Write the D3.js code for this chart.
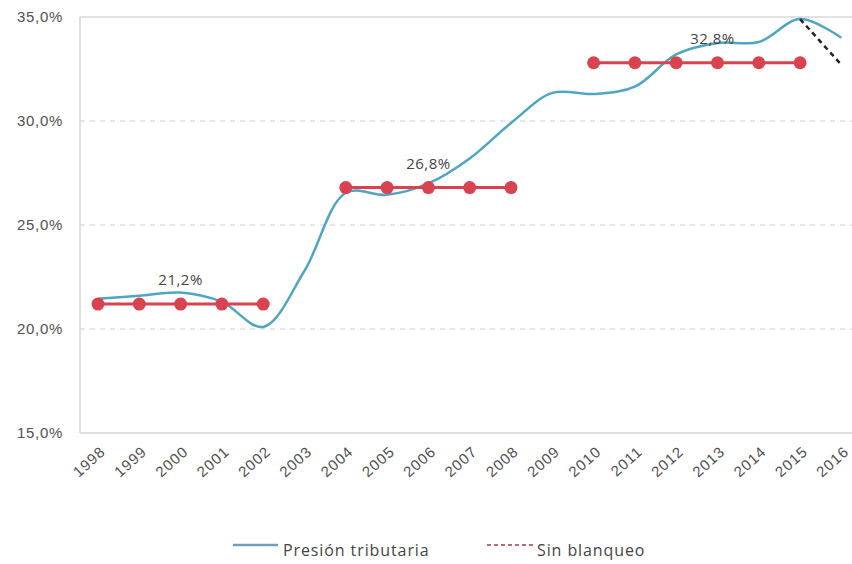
<!DOCTYPE html>
<html>
<head>
<meta charset="utf-8">
<script src="https://cdn.jsdelivr.net/npm/d3@7"></script>
<style>
  html, body { margin: 0; padding: 0; background: #fff; }
  svg { display: block; font-family: "Open Sans", "Noto Sans", sans-serif; }
</style>
</head>
<body>
<svg id="chart" width="852" height="564"></svg>
<script>
// Años del eje horizontal
const years = ["1998","1999","2000","2001","2002","2003","2004","2005","2006","2007",
               "2008","2009","2010","2011","2012","2013","2014","2015","2016"];

// Presión tributaria (% del PIB)
const presion = [21.45, 21.6, 21.75, 21.3, 20.1, 22.8, 26.55, 26.45, 27.0, 28.2,
                 29.9, 31.35, 31.3, 31.65, 33.2, 33.75, 33.8, 34.9, 34.0];

// Escenario sin blanqueo
const sinBlanqueoYears = ["2015", "2016"];
const sinBlanqueo = [34.9, 32.7];

// Promedios por período
const periodo1Years = ["1998","1999","2000","2001","2002"];
const periodo2Years = ["2004","2005","2006","2007","2008"];
const periodo3Years = ["2010","2011","2012","2013","2014","2015"];
const promedios = [21.2, 26.8, 32.8];
const promedioLabelYears = ["2000", "2006", "2013"];

const yTicks = [15, 20, 25, 30, 35];

const svg = d3.select("#chart");
const plotLeft = 80, plotRight = 852, plotTop = 17, plotBottom = 433;

const x = d3.scalePoint().domain(years).range([98, 841.4]);
const y = d3.scaleLinear().domain([15, 35]).range([plotBottom, plotTop]);

const fmt = v => d3.format(".1f")(v).replace(".", ",") + "%";

// Grid lines
svg.append("g").selectAll("line")
  .data(yTicks.filter(t => t > 15 && t < 35))
  .join("line")
  .attr("x1", plotLeft).attr("x2", plotRight)
  .attr("y1", d => y(d)).attr("y2", d => y(d))
  .attr("stroke", "#dedede").attr("stroke-width", 1.5)
  .attr("stroke-dasharray", "5,5");

svg.append("line")
  .attr("x1", plotLeft).attr("x2", plotRight)
  .attr("y1", y(35)).attr("y2", y(35))
  .attr("stroke", "#d8d8d8").attr("stroke-width", 1.5);

// Axis frame
svg.append("line")
  .attr("x1", plotLeft).attr("x2", plotLeft).attr("y1", y(35)).attr("y2", plotBottom)
  .attr("stroke", "#d4d4d4").attr("stroke-width", 1.5);
svg.append("line")
  .attr("x1", plotLeft).attr("x2", plotRight).attr("y1", plotBottom).attr("y2", plotBottom)
  .attr("stroke", "#d4d4d4").attr("stroke-width", 1.5);

// Y labels
const yAxis = d3.axisLeft(y).tickValues(yTicks).tickFormat(fmt).tickSize(0).tickPadding(0);
const gy = svg.append("g").attr("transform", `translate(63,0)`).call(yAxis);
gy.select(".domain").remove();
gy.selectAll("text")
  .attr("fill", "#505050").style("font-size", "15px").style("letter-spacing", "0.7px");

// X labels
const xAxis = d3.axisBottom(x).tickSize(0).tickPadding(0);
const gx = svg.append("g").attr("transform", `translate(0,${plotBottom})`).call(xAxis);
gx.select(".domain").remove();
gx.selectAll("text")
  .attr("fill", "#505050").style("font-size", "15px").style("letter-spacing", "1px")
  .attr("text-anchor", "end")
  .attr("dy", 0)
  .attr("transform", "translate(8,20) rotate(-42)");

// Presión tributaria line
const line = d3.line()
  .x((d, i) => x(years[i]))
  .y(d => y(d))
  .curve(d3.curveCatmullRom.alpha(0.5));

svg.append("path")
  .datum(presion)
  .attr("d", line)
  .attr("fill", "none")
  .attr("stroke", "#4fa5c2")
  .attr("stroke-width", 2.5);

// Sin blanqueo dashed segment
svg.append("path")
  .datum(sinBlanqueo)
  .attr("d", d3.line().x((d, i) => x(sinBlanqueoYears[i])).y(d => y(d)))
  .attr("fill", "none")
  .attr("stroke", "#222")
  .attr("stroke-width", 2.5)
  .attr("stroke-dasharray", "5,4");

// Period averages
const periodos = [periodo1Years, periodo2Years, periodo3Years];
periodos.forEach((ys, k) => {
  const g = svg.append("g");
  g.append("line")
    .attr("x1", x(ys[0])).attr("x2", x(ys[ys.length - 1]))
    .attr("y1", y(promedios[k])).attr("y2", y(promedios[k]))
    .attr("stroke", "#d8434f").attr("stroke-width", 3);
  g.selectAll("circle").data(ys).join("circle")
    .attr("cx", d => x(d)).attr("cy", y(promedios[k])).attr("r", 6.5)
    .attr("fill", "#d8434f");
  g.append("text")
    .attr("x", x(promedioLabelYears[k]) - (k === 2 ? 5 : 0))
    .attr("y", y(promedios[k]) - 19)
    .attr("text-anchor", "middle")
    .attr("fill", "#444")
    .style("font-size", "15px").style("letter-spacing", "0.5px")
    .text(fmt(promedios[k]));
});

// Legend
const legend = svg.append("g");
legend.append("line")
  .attr("x1", 233).attr("x2", 278).attr("y1", 545).attr("y2", 545)
  .attr("stroke", "#6fa2b8").attr("stroke-width", 2.5);
legend.append("text")
  .attr("x", 283).attr("y", 556).attr("fill", "#444")
  .style("font-size", "16px").style("letter-spacing", "0.9px")
  .text("Presión tributaria");
legend.append("line")
  .attr("x1", 487).attr("x2", 533).attr("y1", 545).attr("y2", 545)
  .attr("stroke", "#b86b74").attr("stroke-width", 2)
  .attr("stroke-dasharray", "4,3");
legend.append("text")
  .attr("x", 537).attr("y", 556).attr("fill", "#444")
  .style("font-size", "16px").style("letter-spacing", "0.9px")
  .text("Sin blanqueo");
</script>
</body>
</html>
